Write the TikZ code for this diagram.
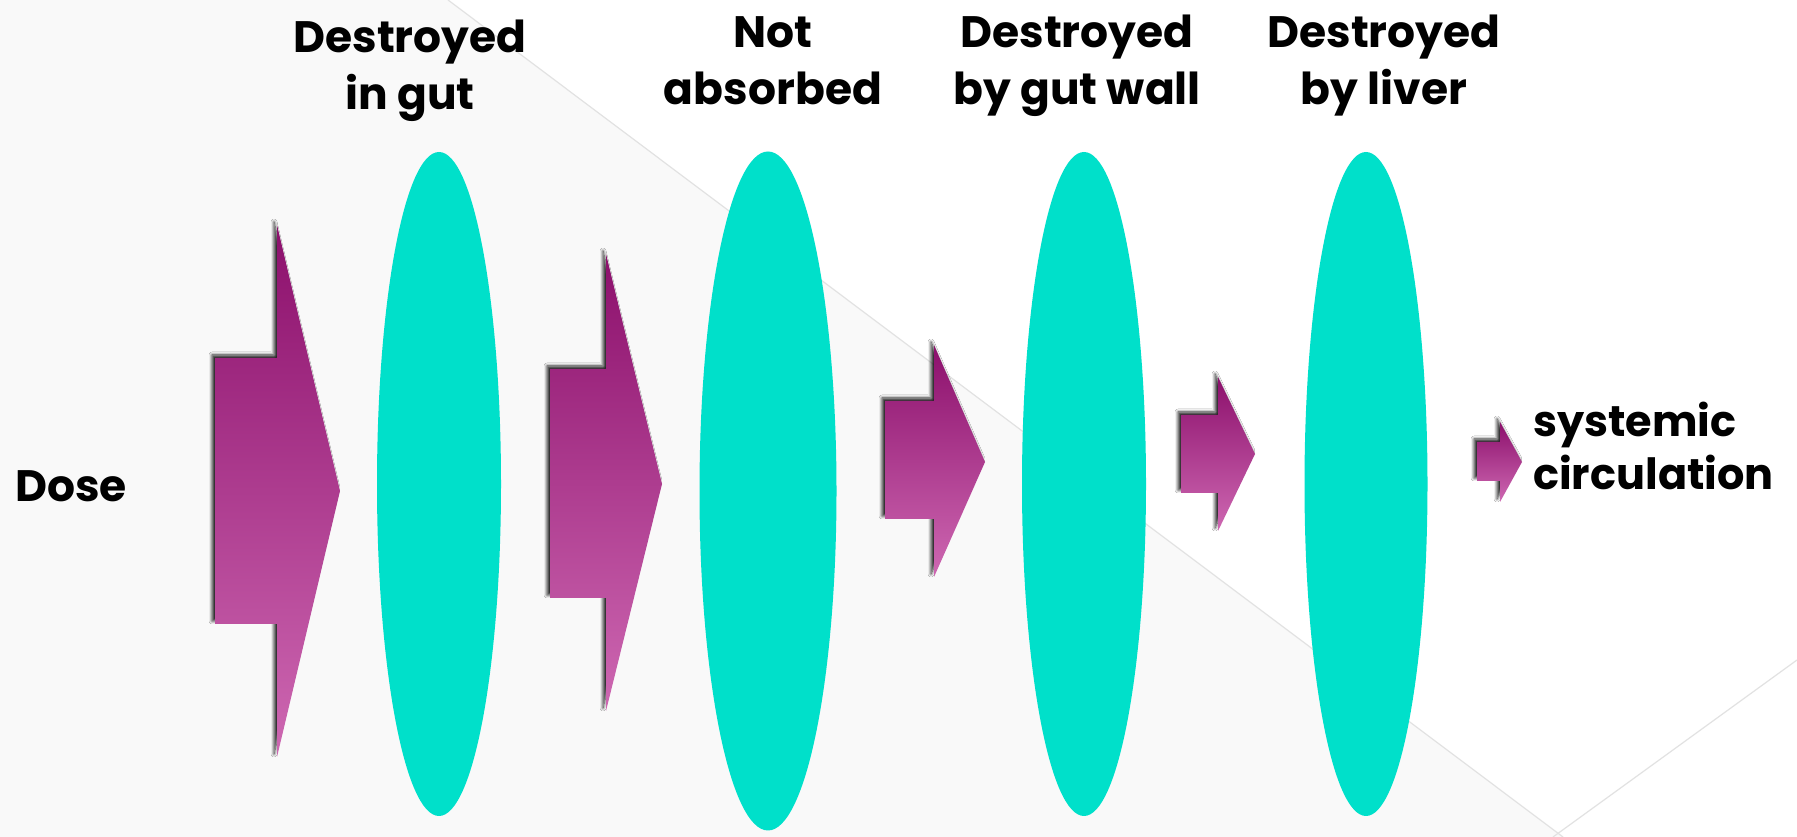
\documentclass[tikz,border=0pt]{standalone}
\usepackage{fontspec}
\setmainfont{Poppins}
\usetikzlibrary{shapes.geometric,shadows.blur}
\definecolor{bgc}{RGB}{249,249,249}
\definecolor{linec}{RGB}{226,226,226}
\definecolor{lensc}{RGB}{0,224,202}
\definecolor{arrtop}{RGB}{140,16,108}
\definecolor{arrbot}{RGB}{206,104,178}
\tikzset{
  lens/.style={ellipse, fill=lensc, draw=none, inner sep=0pt},
  blockarrow/.style={top color=arrtop, bottom color=arrbot, draw=none,
    blur shadow={shadow xshift=-3pt, shadow yshift=3pt, shadow blur radius=3pt,
      shadow opacity=85, shadow blur steps=6}},
  lab/.style={inner sep=0pt, font=\fontsize{44}{57}\selectfont\bfseries},
  labs/.style={inner sep=0pt, font=\fontsize{43}{53}\selectfont\bfseries},
}
\begin{document}
\begin{tikzpicture}[x=1pt,y=1pt]
\useasboundingbox (0,0) rectangle (1797,837);
\fill[white] (0,0) rectangle (1797,837);
\fill[bgc] (0,837) -- (448,837) -- (1563,0) -- (0,0) -- cycle;
\draw[linec, line width=1.2pt] (448,837) -- (1563,0);
\draw[linec, line width=1.2pt] (1797,177) -- (1553,0);

% lenses
\node[lens, minimum width=124pt, minimum height=664pt] (l1) at (439,353) {};
\node[lens, minimum width=137pt, minimum height=679pt] (l2) at (768,346) {};
\node[lens, minimum width=124pt, minimum height=664pt] (l3) at (1084,353) {};
\node[lens, minimum width=123pt, minimum height=664pt] (l4) at (1366,353) {};

% arrows
\path[blockarrow] (215,479) -- (277,479) -- (277,612) -- (340,346) -- (277,80) -- (277,213) -- (215,213) -- cycle;
\path[blockarrow] (550,468) -- (606,468) -- (606,583) -- (662,353) -- (606,126) -- (606,239) -- (550,239) -- cycle;
\path[blockarrow] (885,436) -- (934,436) -- (934,492) -- (985,375) -- (934,260) -- (934,318) -- (885,318) -- cycle;
\path[blockarrow] (1181,422) -- (1218,422) -- (1218,460) -- (1255,383) -- (1218,306) -- (1218,344) -- (1181,344) -- cycle;
\path[blockarrow] (1477,395) -- (1500,395) -- (1500,415) -- (1522,375) -- (1500,335) -- (1500,356) -- (1477,356) -- cycle;

% labels
\node[lab, anchor=base] (t1) at (410,784) {\begin{tabular}[t]{@{}c@{}}Destroyed\\in gut\end{tabular}};
\node[lab, anchor=base] (t2) at (773,789) {\begin{tabular}[t]{@{}c@{}}Not\\absorbed\end{tabular}};
\node[lab, anchor=base] (t3) at (1077,789) {\begin{tabular}[t]{@{}c@{}}Destroyed\\by gut wall\end{tabular}};
\node[lab, anchor=base] (t4) at (1384,789) {\begin{tabular}[t]{@{}c@{}}Destroyed\\by liver\end{tabular}};
\node[lab, anchor=base west] (dose) at (15,335) {Dose};
\node[labs, anchor=base west] (sc) at (1533,400) {\begin{tabular}[t]{@{}l@{}}systemic\\circulation\end{tabular}};
\end{tikzpicture}
\end{document}
